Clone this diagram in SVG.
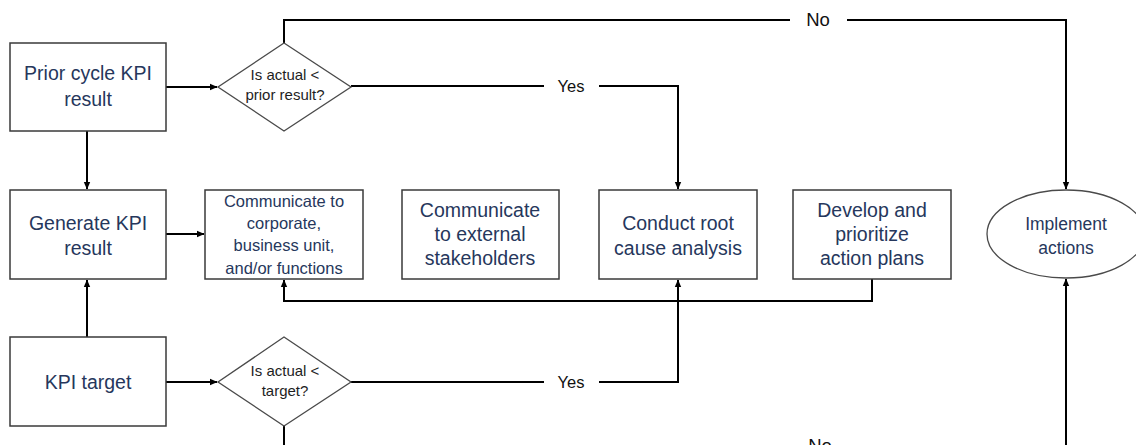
<svg xmlns="http://www.w3.org/2000/svg" width="1136" height="445" viewBox="0 0 1136 445">
<defs>
<marker id="arr" markerWidth="8" markerHeight="8" refX="7" refY="4" orient="auto" markerUnits="userSpaceOnUse">
<path d="M0,0.8 L7.5,4 L0,7.2 Z" fill="#000"/>
</marker>
<style>
.box{fill:#fff;stroke:#3a3a3a;stroke-width:1.5}
.dia{fill:#fff;stroke:#4a4a4a;stroke-width:1.3}
.t{font-family:"Liberation Sans",Arial,sans-serif;fill:#26375c;text-anchor:middle}
.big{font-size:19.5px}
.mid{font-size:16.5px}
.imp{font-size:17.5px}
.dt{font-family:"Liberation Sans",Arial,sans-serif;fill:#1e1e1e;text-anchor:middle;font-size:15px}
.lbl{font-family:"Liberation Sans",Arial,sans-serif;fill:#111;text-anchor:middle}
.c{fill:none;stroke:#000;stroke-width:2}
</style>
</defs>
<rect width="1136" height="445" fill="#fff"/>
<g id="connectors">
<path class="c" d="M166,87 H217" marker-end="url(#arr)"/>
<path class="c" d="M87,131 V189" marker-end="url(#arr)"/>
<path class="c" d="M87,337 V280" marker-end="url(#arr)"/>
<path class="c" d="M166,234 H204" marker-end="url(#arr)"/>
<path class="c" d="M284,43 V20 H790"/>
<path class="c" d="M847,20 H1066 V189" marker-end="url(#arr)"/>
<path class="c" d="M351,86 H544"/>
<path class="c" d="M599,86 H678 V189" marker-end="url(#arr)"/>
<path class="c" d="M166,382 H217" marker-end="url(#arr)"/>
<path class="c" d="M351,382 H544"/>
<path class="c" d="M599,382 H678 V280" marker-end="url(#arr)"/>
<path class="c" d="M872,279 V301 H284 V280" marker-end="url(#arr)"/>
<path class="c" d="M284,426 V470 H790"/>
<path class="c" d="M847,470 H1066 V279" marker-end="url(#arr)"/>
<text class="lbl" x="818" y="26" font-size="18.5">No</text>
<text class="lbl" x="571" y="92" font-size="16.5">Yes</text>
<text class="lbl" x="571" y="388" font-size="16.5">Yes</text>
<text class="lbl" x="820" y="452" font-size="18.5">No</text>
</g>
<g id="prior-cycle">
<rect class="box" x="10" y="43" width="156" height="88"/>
<text class="t big" x="88" y="80">Prior cycle KPI</text>
<text class="t big" x="88" y="106">result</text>
</g>
<g id="decision-prior">
<polygon class="dia" points="284,43 351,87 284,131 218,87"/>
<text class="dt" x="285" y="80">Is actual &lt;</text>
<text class="dt" x="285" y="100">prior result?</text>
</g>
<g id="generate">
<rect class="box" x="10" y="190" width="156" height="89"/>
<text class="t big" x="88" y="230">Generate KPI</text>
<text class="t big" x="88" y="255">result</text>
</g>
<g id="communicate-corporate">
<rect class="box" x="205" y="190" width="158" height="89"/>
<text class="t mid" x="284" y="207">Communicate to</text>
<text class="t mid" x="284" y="229">corporate,</text>
<text class="t mid" x="284" y="251">business unit,</text>
<text class="t mid" x="284" y="274">and/or functions</text>
</g>
<g id="communicate-external">
<rect class="box" x="402" y="190" width="157" height="89"/>
<text class="t big" x="480" y="217">Communicate</text>
<text class="t big" x="480" y="241">to external</text>
<text class="t big" x="480" y="265">stakeholders</text>
</g>
<g id="root-cause">
<rect class="box" x="599" y="190" width="158" height="89"/>
<text class="t big" x="678" y="230">Conduct root</text>
<text class="t big" x="678" y="255">cause analysis</text>
</g>
<g id="develop">
<rect class="box" x="793" y="190" width="158" height="89"/>
<text class="t big" x="872" y="217">Develop and</text>
<text class="t big" x="872" y="241">prioritize</text>
<text class="t big" x="872" y="265">action plans</text>
</g>
<g id="implement">
<ellipse class="dia" cx="1066" cy="234" rx="79" ry="44"/>
<text class="t imp" x="1066" y="230">Implement</text>
<text class="t imp" x="1066" y="254">actions</text>
</g>
<g id="kpi-target">
<rect class="box" x="10" y="337" width="156" height="89"/>
<text class="t big" x="88" y="389">KPI target</text>
</g>
<g id="decision-target">
<polygon class="dia" points="284,337 351,382 284,426 218,382"/>
<text class="dt" x="285" y="376">Is actual &lt;</text>
<text class="dt" x="285" y="396">target?</text>
</g>
</svg>
